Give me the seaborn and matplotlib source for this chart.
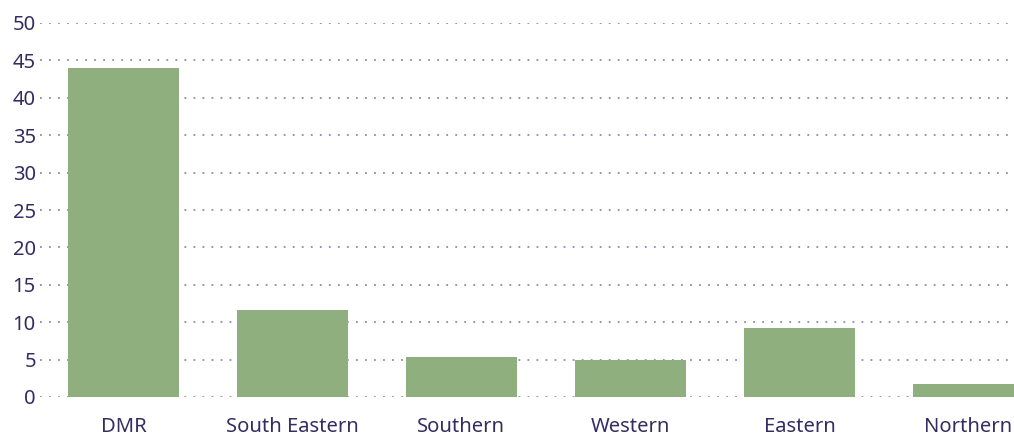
import matplotlib
matplotlib.use("Agg")
import matplotlib.pyplot as plt
import seaborn as sns
import pandas as pd

categories = ["DMR", "South Eastern", "Southern", "Western", "Eastern", "Northern"]
values = [44.0, 11.6, 5.3, 4.9, 9.2, 1.7]
yticks = [0, 5, 10, 15, 20, 25, 30, 35, 40, 45, 50]

df = pd.DataFrame({"region": categories, "value": values})

sns.set_theme(style="white")
plt.rcParams["font.family"] = ["Noto Sans", "DejaVu Sans"]

text_color = "#342c62"
bar_color = "#8fb07e"
grid_color = "#8f88b2"

fig = plt.figure(figsize=(10.14, 4.41), dpi=100)
ax = fig.add_axes([40 / 1014, 44 / 441, 1 - 40 / 1014, 374 / 441])

sns.barplot(data=df, x="region", y="value", color=bar_color, width=0.657,
            saturation=1, ax=ax, zorder=3, linewidth=0)

ax.set_ylim(0, 50)
ax.set_xlim(-0.494, 5.27)
ax.set_yticks(yticks)
ax.set_yticklabels([str(t) for t in yticks])
ax.set_xlabel("")
ax.set_ylabel("")
for s in ax.spines.values():
    s.set_visible(False)
ax.set_axisbelow(True)
ax.yaxis.grid(True, color=grid_color, linestyle=(0, (1, 4)), linewidth=1.3, zorder=0)
ax.xaxis.grid(False)
ax.tick_params(axis="y", length=0, pad=3, labelsize=14.5, labelcolor=text_color)
ax.tick_params(axis="x", length=0, pad=14.5, labelsize=14.5, labelcolor=text_color)
for t in ax.get_yticklabels() + ax.get_xticklabels():
    t.set_clip_on(False)
    t.set_fontweight(500)

fig.savefig("out.png", dpi=100)
